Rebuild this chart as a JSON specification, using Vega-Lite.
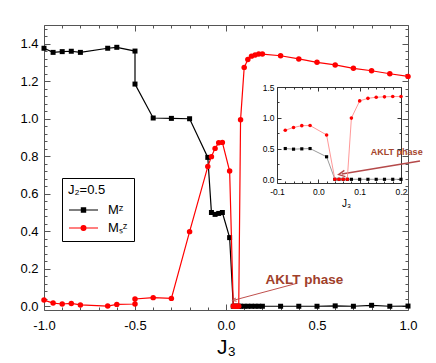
{
  "$schema": "https://vega.github.io/schema/vega-lite/v6.json",
  "width": 364,
  "height": 285,
  "autosize": "none",
  "padding": {"left": 44, "top": 25, "right": 28, "bottom": 53},
  "background": "white",
  "config": {
    "view": {"stroke": null},
    "font": "Liberation Sans",
    "axis": {"grid": false, "labelFont": "Liberation Sans", "titleFont": "Liberation Sans", "titleFontWeight": "normal", "labelColor": "#000", "titleColor": "#000", "domainColor": "#555", "tickColor": "#555", "labelOverlap": false, "labelFlush": false}
  },
  "datasets": {
    "d": [
      {"s": "Mz", "k": 0, "J3": -1.0, "v": 1.376},
      {"s": "Mz", "k": 1, "J3": -0.95, "v": 1.354},
      {"s": "Mz", "k": 2, "J3": -0.9, "v": 1.358},
      {"s": "Mz", "k": 3, "J3": -0.85, "v": 1.36},
      {"s": "Mz", "k": 4, "J3": -0.8, "v": 1.354},
      {"s": "Mz", "k": 5, "J3": -0.65, "v": 1.376},
      {"s": "Mz", "k": 6, "J3": -0.6, "v": 1.381},
      {"s": "Mz", "k": 7, "J3": -0.5, "v": 1.361},
      {"s": "Mz", "k": 8, "J3": -0.5, "v": 1.185},
      {"s": "Mz", "k": 9, "J3": -0.4, "v": 1.004},
      {"s": "Mz", "k": 10, "J3": -0.3, "v": 1.002},
      {"s": "Mz", "k": 11, "J3": -0.2, "v": 1.0},
      {"s": "Mz", "k": 12, "J3": -0.1, "v": 0.794},
      {"s": "Mz", "k": 13, "J3": -0.08, "v": 0.5},
      {"s": "Mz", "k": 14, "J3": -0.06, "v": 0.49},
      {"s": "Mz", "k": 15, "J3": -0.04, "v": 0.495},
      {"s": "Mz", "k": 16, "J3": -0.02, "v": 0.5},
      {"s": "Mz", "k": 17, "J3": 0.02, "v": 0.366},
      {"s": "Mz", "k": 18, "J3": 0.04, "v": 0.0},
      {"s": "Mz", "k": 19, "J3": 0.05, "v": 0.0},
      {"s": "Mz", "k": 20, "J3": 0.06, "v": 0.0},
      {"s": "Mz", "k": 21, "J3": 0.07, "v": 0.0},
      {"s": "Mz", "k": 22, "J3": 0.08, "v": 0.0},
      {"s": "Mz", "k": 23, "J3": 0.1, "v": 0.0},
      {"s": "Mz", "k": 24, "J3": 0.12, "v": 0.0},
      {"s": "Mz", "k": 25, "J3": 0.14, "v": 0.0},
      {"s": "Mz", "k": 26, "J3": 0.16, "v": 0.0},
      {"s": "Mz", "k": 27, "J3": 0.18, "v": 0.0},
      {"s": "Mz", "k": 28, "J3": 0.2, "v": 0.0},
      {"s": "Mz", "k": 29, "J3": 0.3, "v": 0.0},
      {"s": "Mz", "k": 30, "J3": 0.4, "v": 0.0},
      {"s": "Mz", "k": 31, "J3": 0.5, "v": 0.0},
      {"s": "Mz", "k": 32, "J3": 0.6, "v": 0.002},
      {"s": "Mz", "k": 33, "J3": 0.7, "v": 0.0},
      {"s": "Mz", "k": 34, "J3": 0.8, "v": 0.005},
      {"s": "Mz", "k": 35, "J3": 0.9, "v": 0.0},
      {"s": "Mz", "k": 36, "J3": 1.0, "v": 0.001},
      {"s": "Ms", "k": 0, "J3": -1.0, "v": 0.033},
      {"s": "Ms", "k": 1, "J3": -0.95, "v": 0.017},
      {"s": "Ms", "k": 2, "J3": -0.9, "v": 0.012},
      {"s": "Ms", "k": 3, "J3": -0.85, "v": 0.015},
      {"s": "Ms", "k": 4, "J3": -0.8, "v": 0.007},
      {"s": "Ms", "k": 5, "J3": -0.65, "v": 0.001},
      {"s": "Ms", "k": 6, "J3": -0.6, "v": 0.01},
      {"s": "Ms", "k": 7, "J3": -0.5, "v": 0.012},
      {"s": "Ms", "k": 8, "J3": -0.5, "v": 0.039},
      {"s": "Ms", "k": 9, "J3": -0.4, "v": 0.046},
      {"s": "Ms", "k": 10, "J3": -0.3, "v": 0.042},
      {"s": "Ms", "k": 11, "J3": -0.2, "v": 0.398},
      {"s": "Ms", "k": 12, "J3": -0.1, "v": 0.745},
      {"s": "Ms", "k": 13, "J3": -0.08, "v": 0.798},
      {"s": "Ms", "k": 14, "J3": -0.06, "v": 0.842},
      {"s": "Ms", "k": 15, "J3": -0.04, "v": 0.872},
      {"s": "Ms", "k": 16, "J3": -0.02, "v": 0.874},
      {"s": "Ms", "k": 17, "J3": 0.02, "v": 0.721},
      {"s": "Ms", "k": 18, "J3": 0.04, "v": 0.0},
      {"s": "Ms", "k": 19, "J3": 0.05, "v": 0.0},
      {"s": "Ms", "k": 20, "J3": 0.06, "v": 0.0},
      {"s": "Ms", "k": 21, "J3": 0.07, "v": 0.0},
      {"s": "Ms", "k": 22, "J3": 0.08, "v": 0.995},
      {"s": "Ms", "k": 23, "J3": 0.1, "v": 1.274},
      {"s": "Ms", "k": 24, "J3": 0.12, "v": 1.316},
      {"s": "Ms", "k": 25, "J3": 0.14, "v": 1.334},
      {"s": "Ms", "k": 26, "J3": 0.16, "v": 1.34},
      {"s": "Ms", "k": 27, "J3": 0.18, "v": 1.345},
      {"s": "Ms", "k": 28, "J3": 0.2, "v": 1.345},
      {"s": "Ms", "k": 29, "J3": 0.3, "v": 1.336},
      {"s": "Ms", "k": 30, "J3": 0.4, "v": 1.319},
      {"s": "Ms", "k": 31, "J3": 0.5, "v": 1.301},
      {"s": "Ms", "k": 32, "J3": 0.6, "v": 1.287},
      {"s": "Ms", "k": 33, "J3": 0.7, "v": 1.269},
      {"s": "Ms", "k": 34, "J3": 0.8, "v": 1.256},
      {"s": "Ms", "k": 35, "J3": 0.9, "v": 1.24},
      {"s": "Ms", "k": 36, "J3": 1.0, "v": 1.226}
    ],
    "notes": [
      {"id": "main", "label": "AKLT phase", "x": 0.431, "y": 0.14, "x1": 0.388, "y1": 0.122, "x2": 0.046, "y2": 0.033},
      {"id": "inset", "label": "AKLT phase", "x": 0.938, "y": 0.821, "x1": 1.066, "y1": 0.775, "x2": 0.636, "y2": 0.705}
    ]
  },
  "data": {"name": "d"},
  "layer": [
    {
      "layer": [
        {
          "mark": {"type": "point", "opacity": 0},
          "encoding": {
            "x": {"field": "J3", "type": "quantitative", "scale": {"domain": [-1, 1], "nice": false, "zero": false},
              "axis": {"orient": "bottom", "values": [-1,-0.9,-0.8,-0.7,-0.6,-0.5,-0.4,-0.3,-0.2,-0.1,0,0.1,0.2,0.3,0.4,0.5,0.6,0.7,0.8,0.9,1],
                "labelExpr": "abs(datum.value*2-round(datum.value*2))<0.001 ? (datum.value<0?'-':'')+format(abs(datum.value),'.1f') : ''",
                "tickSize": {"condition": {"test": "abs(datum.value*2-round(datum.value*2))<0.001", "value": -6}, "value": -3},
                "labelPadding": 15, "labelFontSize": 13, "title": "J₃", "titleFontSize": 21, "titlePadding": 1}},
            "y": {"field": "v", "type": "quantitative", "scale": {"domain": [-0.02, 1.5], "nice": false, "zero": false},
              "axis": {"orient": "left", "values": [0,0.04,0.08,0.12,0.16,0.2,0.24,0.28,0.32,0.36,0.4,0.44,0.48,0.52,0.56,0.6,0.64,0.68,0.72,0.76,0.8,0.84,0.88,0.92,0.96,1,1.04,1.08,1.12,1.16,1.2,1.24,1.28,1.32,1.36,1.4,1.44,1.48],
                "labelExpr": "abs(datum.value*5-round(datum.value*5))<0.001 ? format(datum.value,'.1f') : ''",
                "tickSize": {"condition": {"test": "abs(datum.value*5-round(datum.value*5))<0.001", "value": -6}, "value": -3},
                "labelPadding": 12, "labelFontSize": 13, "title": null}}
          }
        },
        {
          "mark": {"type": "point", "opacity": 0},
          "encoding": {
            "x": {"field": "J3", "type": "quantitative",
              "axis": {"orient": "top", "values": [-1,-0.9,-0.8,-0.7,-0.6,-0.5,-0.4,-0.3,-0.2,-0.1,0,0.1,0.2,0.3,0.4,0.5,0.6,0.7,0.8,0.9,1],
                "labels": false, "title": null,
                "tickSize": {"condition": {"test": "abs(datum.value*2-round(datum.value*2))<0.001", "value": -6}, "value": -3}}},
            "y": {"field": "v", "type": "quantitative",
              "axis": {"orient": "right", "values": [0,0.04,0.08,0.12,0.16,0.2,0.24,0.28,0.32,0.36,0.4,0.44,0.48,0.52,0.56,0.6,0.64,0.68,0.72,0.76,0.8,0.84,0.88,0.92,0.96,1,1.04,1.08,1.12,1.16,1.2,1.24,1.28,1.32,1.36,1.4,1.44,1.48],
                "labels": false, "title": null,
                "tickSize": {"condition": {"test": "abs(datum.value*5-round(datum.value*5))<0.001", "value": -6}, "value": -3}}}
          }
        },
        {
          "transform": [{"filter": "datum.s == 'Mz'"}],
          "mark": {"type": "line", "color": "#000000", "strokeWidth": 1.2},
          "encoding": {
            "x": {"field": "J3", "type": "quantitative", "axis": null},
            "y": {"field": "v", "type": "quantitative", "axis": null},
            "order": {"field": "k"}
          }
        },
        {
          "transform": [{"filter": "datum.s == 'Mz'"}],
          "mark": {"type": "point", "shape": "square", "filled": true, "color": "#000000", "size": 25, "opacity": 1},
          "encoding": {
            "x": {"field": "J3", "type": "quantitative", "axis": null},
            "y": {"field": "v", "type": "quantitative", "axis": null}
          }
        },
        {
          "transform": [{"filter": "datum.s == 'Ms'"}],
          "mark": {"type": "line", "color": "#ff0000", "strokeWidth": 1.2},
          "encoding": {
            "x": {"field": "J3", "type": "quantitative", "axis": null},
            "y": {"field": "v", "type": "quantitative", "axis": null},
            "order": {"field": "k"}
          }
        },
        {
          "transform": [{"filter": "datum.s == 'Ms'"}],
          "mark": {"type": "point", "shape": "circle", "filled": true, "color": "#ff0000", "size": 30, "opacity": 1},
          "encoding": {
            "x": {"field": "J3", "type": "quantitative", "axis": null},
            "y": {"field": "v", "type": "quantitative", "axis": null}
          }
        },
        {
          "transform": [{"filter": "false"}],
          "mark": {"type": "point", "filled": true, "strokeWidth": 1.2, "opacity": 1},
          "encoding": {
            "x": {"field": "J3", "type": "quantitative", "axis": null},
            "y": {"field": "v", "type": "quantitative", "axis": null},
            "color": {"field": "s", "type": "nominal", "title": "J₂=0.5",
              "scale": {"domain": ["Mz", "Ms"], "range": ["#000000", "#ff0000"]},
              "legend": {"orient": "none", "legendX": 18, "legendY": 153, "padding": 6, "strokeColor": "#000", "fillColor": "#fff",
                "titleFontSize": 13, "titleFontWeight": "normal", "titleFont": "Liberation Sans", "titleColor": "#000", "titlePadding": 2,
                "labelFontSize": 13, "labelFont": "Liberation Sans", "labelColor": "#000", "symbolSize": 400, "symbolStrokeWidth": 1.2,
                "symbolOffset": 4.5, "labelOffset": 13.4, "rowPadding": 0,
                "labelExpr": "datum.value == 'Mz' ? 'Mᶻ' : 'Mₛᶻ'"}},
            "stroke": {"field": "s", "type": "nominal", "title": "J₂=0.5",
              "scale": {"domain": ["Mz", "Ms"], "range": ["#000000", "#ff0000"]},
              "legend": {"orient": "none", "legendX": 18, "legendY": 153, "padding": 6, "strokeColor": "#000", "fillColor": "#fff",
                "titleFontSize": 13, "titleFontWeight": "normal", "titleFont": "Liberation Sans", "titleColor": "#000", "titlePadding": 2,
                "labelFontSize": 13, "labelFont": "Liberation Sans", "labelColor": "#000", "symbolSize": 400, "symbolStrokeWidth": 1.2,
                "symbolOffset": 4.5, "labelOffset": 13.4, "rowPadding": 0,
                "labelExpr": "datum.value == 'Mz' ? 'Mᶻ' : 'Mₛᶻ'"}},
            "shape": {"field": "s", "type": "nominal", "title": "J₂=0.5",
              "scale": {"domain": ["Mz", "Ms"], "range": ["M-1.45,0H1.45M-0.21,-0.21H0.21V0.21H-0.21Z", "M-1.45,0H1.45M0.24,0A0.24,0.24,0,1,1,-0.24,0A0.24,0.24,0,1,1,0.24,0Z"]},
              "legend": {"orient": "none", "legendX": 18, "legendY": 153, "padding": 6, "strokeColor": "#000", "fillColor": "#fff",
                "titleFontSize": 13, "titleFontWeight": "normal", "titleFont": "Liberation Sans", "titleColor": "#000", "titlePadding": 2,
                "labelFontSize": 13, "labelFont": "Liberation Sans", "labelColor": "#000", "symbolSize": 400, "symbolStrokeWidth": 1.2,
                "symbolOffset": 4.5, "labelOffset": 13.4, "rowPadding": 0,
                "labelExpr": "datum.value == 'Mz' ? 'Mᶻ' : 'Mₛᶻ'"}}
          }
        },
        {
          "data": {"name": "notes"},
          "transform": [{"filter": "datum.id == 'main'"}],
          "mark": {"type": "rule", "color": "#c0504d", "strokeWidth": 1},
          "encoding": {
            "x": {"field": "x1", "type": "quantitative", "axis": null},
            "y": {"field": "y1", "type": "quantitative", "axis": null},
            "x2": {"field": "x2"},
            "y2": {"field": "y2"}
          }
        },
        {
          "data": {"name": "notes"},
          "transform": [{"filter": "datum.id == 'inset'"}],
          "mark": {"type": "rule", "color": "#b5494a", "strokeWidth": 1.4},
          "encoding": {
            "x": {"field": "x1", "type": "quantitative", "axis": null},
            "y": {"field": "y1", "type": "quantitative", "axis": null},
            "x2": {"field": "x2"},
            "y2": {"field": "y2"}
          }
        },
        {
          "data": {"name": "notes"},
          "transform": [{"filter": "datum.id == 'main'"}],
          "mark": {"type": "point", "shape": "M1,-1L-1,0L1,1", "filled": false, "color": "#c0504d", "strokeWidth": 1, "size": 14, "angle": 344.5, "opacity": 1},
          "encoding": {
            "x": {"field": "x2", "type": "quantitative", "axis": null},
            "y": {"field": "y2", "type": "quantitative", "axis": null}
          }
        },
        {
          "data": {"name": "notes"},
          "transform": [{"filter": "datum.id == 'inset'"}],
          "mark": {"type": "point", "shape": "M1,-1L-1,0L1,1", "filled": false, "color": "#b5494a", "strokeWidth": 1.4, "size": 40, "angle": 350.6, "opacity": 1},
          "encoding": {
            "x": {"field": "x2", "type": "quantitative", "axis": null},
            "y": {"field": "y2", "type": "quantitative", "axis": null}
          }
        },
        {
          "data": {"name": "notes"},
          "transform": [{"filter": "datum.id == 'main'"}],
          "mark": {"type": "text", "font": "Liberation Sans", "fontWeight": "bold", "fontSize": 13.5, "color": "#a0402a", "align": "center", "baseline": "middle"},
          "encoding": {
            "x": {"field": "x", "type": "quantitative", "axis": null},
            "y": {"field": "y", "type": "quantitative", "axis": null},
            "text": {"field": "label"}
          }
        },
        {
          "data": {"name": "notes"},
          "transform": [{"filter": "datum.id == 'inset'"}],
          "mark": {"type": "text", "font": "Liberation Sans", "fontWeight": "bold", "fontSize": 9, "color": "#a5452c", "align": "center", "baseline": "middle"},
          "encoding": {
            "x": {"field": "x", "type": "quantitative", "axis": null},
            "y": {"field": "y", "type": "quantitative", "axis": null},
            "text": {"field": "label"}
          }
        }
      ],
      "resolve": {"axis": {"x": "independent", "y": "independent"}}
    },
    {
      "transform": [{"filter": "datum.J3 > -0.09 && datum.J3 < 0.21"}],
      "layer": [
        {
          "mark": {"type": "point", "opacity": 0},
          "encoding": {
            "x": {"field": "J3", "type": "quantitative", "scale": {"domain": [-0.1, 0.2], "range": [233, 357], "nice": false, "zero": false},
              "axis": {"orient": "bottom", "offset": -127, "values": [-0.1,-0.08,-0.06,-0.04,-0.02,0,0.02,0.04,0.06,0.08,0.1,0.12,0.14,0.16,0.18,0.2],
                "labelExpr": "abs(datum.value*10-round(datum.value*10))<0.001 ? (datum.value<-0.001?'-':'')+format(abs(datum.value),'.1f') : ''",
                "tickSize": {"condition": {"test": "abs(datum.value*10-round(datum.value*10))<0.001", "value": -4}, "value": -2},
                "labelPadding": 8, "labelFontSize": 8.5, "domainColor": "#333", "tickColor": "#333",
                "title": "J₃", "titleFontSize": 10, "titlePadding": 1, "titleX": 302}},
            "y": {"field": "v", "type": "quantitative", "scale": {"domain": [-0.06, 1.5], "range": [158, 62], "nice": false, "zero": false},
              "axis": {"orient": "left", "offset": -233, "values": [0,0.25,0.5,0.75,1,1.25,1.5],
                "labelExpr": "abs(datum.value*2-round(datum.value*2))<0.001 ? format(datum.value,'.1f') : ''",
                "tickSize": {"condition": {"test": "abs(datum.value*2-round(datum.value*2))<0.001", "value": -4}, "value": -2},
                "labelPadding": 7, "labelFontSize": 8.5, "domainColor": "#333", "tickColor": "#333", "title": null}}
          }
        },
        {
          "mark": {"type": "point", "opacity": 0},
          "encoding": {
            "x": {"field": "J3", "type": "quantitative",
              "axis": {"orient": "top", "offset": -62, "values": [-0.1,-0.08,-0.06,-0.04,-0.02,0,0.02,0.04,0.06,0.08,0.1,0.12,0.14,0.16,0.18,0.2],
                "labels": false, "title": null, "domainColor": "#333", "tickColor": "#333",
                "tickSize": {"condition": {"test": "abs(datum.value*10-round(datum.value*10))<0.001", "value": -4}, "value": -2}}},
            "y": {"field": "v", "type": "quantitative",
              "axis": {"orient": "right", "offset": -7, "values": [0,0.25,0.5,0.75,1,1.25,1.5],
                "labels": false, "title": null, "domainColor": "#333", "tickColor": "#333",
                "tickSize": {"condition": {"test": "abs(datum.value*2-round(datum.value*2))<0.001", "value": -4}, "value": -2}}}
          }
        },
        {
          "transform": [{"filter": "datum.s == 'Mz'"}],
          "mark": {"type": "line", "color": "#808080", "strokeWidth": 0.8},
          "encoding": {
            "x": {"field": "J3", "type": "quantitative", "axis": null},
            "y": {"field": "v", "type": "quantitative", "axis": null},
            "order": {"field": "k"}
          }
        },
        {
          "transform": [{"filter": "datum.s == 'Mz'"}],
          "mark": {"type": "point", "shape": "square", "filled": true, "color": "#000000", "size": 10, "opacity": 1},
          "encoding": {
            "x": {"field": "J3", "type": "quantitative", "axis": null},
            "y": {"field": "v", "type": "quantitative", "axis": null}
          }
        },
        {
          "transform": [{"filter": "datum.s == 'Ms'"}],
          "mark": {"type": "line", "color": "#ff8c8c", "strokeWidth": 0.9},
          "encoding": {
            "x": {"field": "J3", "type": "quantitative", "axis": null},
            "y": {"field": "v", "type": "quantitative", "axis": null},
            "order": {"field": "k"}
          }
        },
        {
          "transform": [{"filter": "datum.s == 'Ms'"}],
          "mark": {"type": "point", "shape": "circle", "filled": true, "color": "#ff0000", "size": 13, "opacity": 1},
          "encoding": {
            "x": {"field": "J3", "type": "quantitative", "axis": null},
            "y": {"field": "v", "type": "quantitative", "axis": null}
          }
        }
      ],
      "resolve": {"axis": {"x": "independent", "y": "independent"}}
    }
  ],
  "resolve": {"scale": {"x": "independent", "y": "independent"}}
}
